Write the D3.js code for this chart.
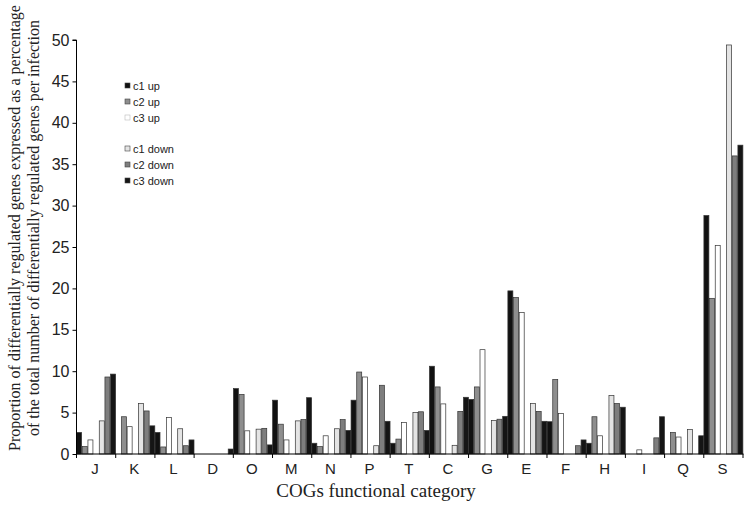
<!DOCTYPE html>
<html>
<head>
<meta charset="utf-8">
<script src="https://cdn.jsdelivr.net/npm/d3@7/dist/d3.min.js"></script>
<style>
  body { margin: 0; background: #fff; }
  svg { display: block; }
</style>
</head>
<body>
<div id="chart"></div>
<script>
const categories = ["J", "K", "L", "D", "O", "M", "N", "P", "T", "C", "G", "E", "F", "H", "I", "Q", "S"]

// values, percentage per category
const c1up   = [2.6, 0, 2.6, 0, 7.9, 6.5, 1.3, 6.5, 1.3, 10.6, 6.6, 19.7, 3.9, 1.3, 0, 0, 28.8]
const c2up   = [0.9, 4.5, 0.85, 0, 7.2, 3.6, 0.9, 9.9, 1.8, 8.1, 8.1, 18.9, 9.0, 4.5, 0, 2.6, 18.8]
const c3up   = [1.7, 3.3, 4.4, 0, 2.8, 1.7, 2.2, 9.3, 3.8, 6.05, 12.6, 17.1, 4.9, 2.2, 0.5, 2.05, 25.2]
const c1down = [4.0, 6.1, 3.05, 0, 3.0, 4.0, 3.05, 1.0, 5.0, 1.05, 4.05, 6.1, 0, 7.05, 0, 2.95, 49.4]
const c2down = [9.3, 5.2, 1.0, 0, 3.1, 4.15, 4.15, 8.3, 5.1, 5.15, 4.2, 5.15, 1.0, 6.1, 1.95, 0, 36.0]
const c3down = [9.65, 3.4, 1.7, 0.6, 1.1, 6.8, 2.85, 3.95, 2.85, 6.85, 4.55, 3.95, 1.7, 5.65, 4.5, 2.2, 37.3]

const yTicks = [0, 5, 10, 15, 20, 25, 30, 35, 40, 45, 50]

const series = [
    {key: "c1 up", values: c1up, fill: "#111111"},
    {key: "c2 up", values: c2up, fill: "#8e8e8e"},
    {key: "c3 up", values: c3up, fill: "#ffffff"},
    {key: "c1 down", values: c1down, fill: "#e4e4e4"},
    {key: "c2 down", values: c2down, fill: "#7e7e7e"},
    {key: "c3 down", values: c3down, fill: "#151515"}
]
// one empty slot between the up and down groups
const slots = ["c1 up", "c2 up", "c3 up", "gap", "c1 down", "c2 down", "c3 down"]

let svg = d3.select("#chart")
    .append("svg")
    .attr("width", 752)
    .attr("height", 506)

let x = d3.scaleBand()
    .domain(categories)
    .range([76.5, 743])
    .padding(0)

let xInner = d3.scaleBand()
    .domain(slots)
    .range([0, x.bandwidth()])
    .paddingInner(0.12)
    .paddingOuter(0.02)

let y = d3.scaleLinear()
    .domain([0, 50])
    .range([454, 40])

// bars
series.forEach(s => {
    svg.append("g")
        .selectAll("rect")
        .data(s.values.map((v, i) => ({cat: categories[i], v: v})).filter(d => d.v > 0))
        .join("rect")
        .attr("x", d => x(d.cat) + xInner(s.key))
        .attr("y", d => y(d.v))
        .attr("width", xInner.bandwidth())
        .attr("height", d => y(0) - y(d.v))
        .attr("fill", s.fill)
        .attr("stroke", "#333")
        .attr("stroke-width", 0.7)
})

// y axis
let yAxis = svg.append("g")
    .attr("transform", "translate(76.5,0)")
    .call(d3.axisLeft(y).tickValues(yTicks).tickSize(4).tickPadding(3))
yAxis.select(".domain").attr("stroke", "#000").attr("d", "M-4," + y(50) + "H0V" + y(0))
yAxis.selectAll("text")
    .attr("font-family", "Liberation Sans, Arial, sans-serif")
    .attr("font-size", 16)
    .attr("fill", "#222")

// x axis: ticks at category boundaries
let bounds = categories.map(c => x(c)).concat([x.range()[1]])
svg.append("line")
    .attr("x1", 76.5).attr("x2", 743.5)
    .attr("y1", y(0)).attr("y2", y(0))
    .attr("stroke", "#000")
svg.append("g")
    .selectAll("line")
    .data(bounds)
    .join("line")
    .attr("x1", d => d).attr("x2", d => d)
    .attr("y1", y(0)).attr("y2", y(0) + 4)
    .attr("stroke", "#000")
svg.append("g")
    .selectAll("text")
    .data(categories)
    .join("text")
    .attr("x", d => x(d) + x.bandwidth() / 2 - 1)
    .attr("y", 474)
    .attr("text-anchor", "middle")
    .attr("font-family", "Liberation Sans, Arial, sans-serif")
    .attr("font-size", 15)
    .attr("fill", "#222")
    .text(d => d)

// axis titles
svg.append("text")
    .attr("x", 376)
    .attr("y", 497)
    .attr("text-anchor", "middle")
    .attr("font-family", "Liberation Serif, Times New Roman, serif")
    .attr("font-size", 19)
    .attr("fill", "#222")
    .text("COGs functional category")

let yTitle = svg.append("text")
    .attr("transform", "translate(0,228) rotate(-90)")
    .attr("text-anchor", "middle")
    .attr("font-family", "Liberation Serif, Times New Roman, serif")
    .attr("font-size", 16)
    .attr("fill", "#222")
yTitle.append("tspan").attr("x", 0).attr("y", 20)
    .text("Proportion of differentially regulated genes expressed as a percentage")
yTitle.append("tspan").attr("x", 0).attr("y", 39)
    .text("of the total number of differentially regulated genes per infection")

// legend
let legendY = [86, 102, 118, 149, 165, 181]
let legend = svg.append("g")
    .selectAll("g")
    .data(series)
    .join("g")
    .attr("transform", (d, i) => "translate(125," + legendY[i] + ")")
legend.append("rect")
    .attr("x", 0).attr("y", -3)
    .attr("width", 5).attr("height", 5)
    .attr("fill", d => d.fill)
    .attr("stroke", d => d.fill == "#ffffff" ? "#bbb" : "#444")
    .attr("stroke-width", 0.6)
legend.append("text")
    .attr("x", 8)
    .attr("y", 4)
    .attr("font-family", "Liberation Sans, Arial, sans-serif")
    .attr("font-size", 11)
    .attr("fill", "#222")
    .text(d => d.key)
</script>
</body>
</html>
